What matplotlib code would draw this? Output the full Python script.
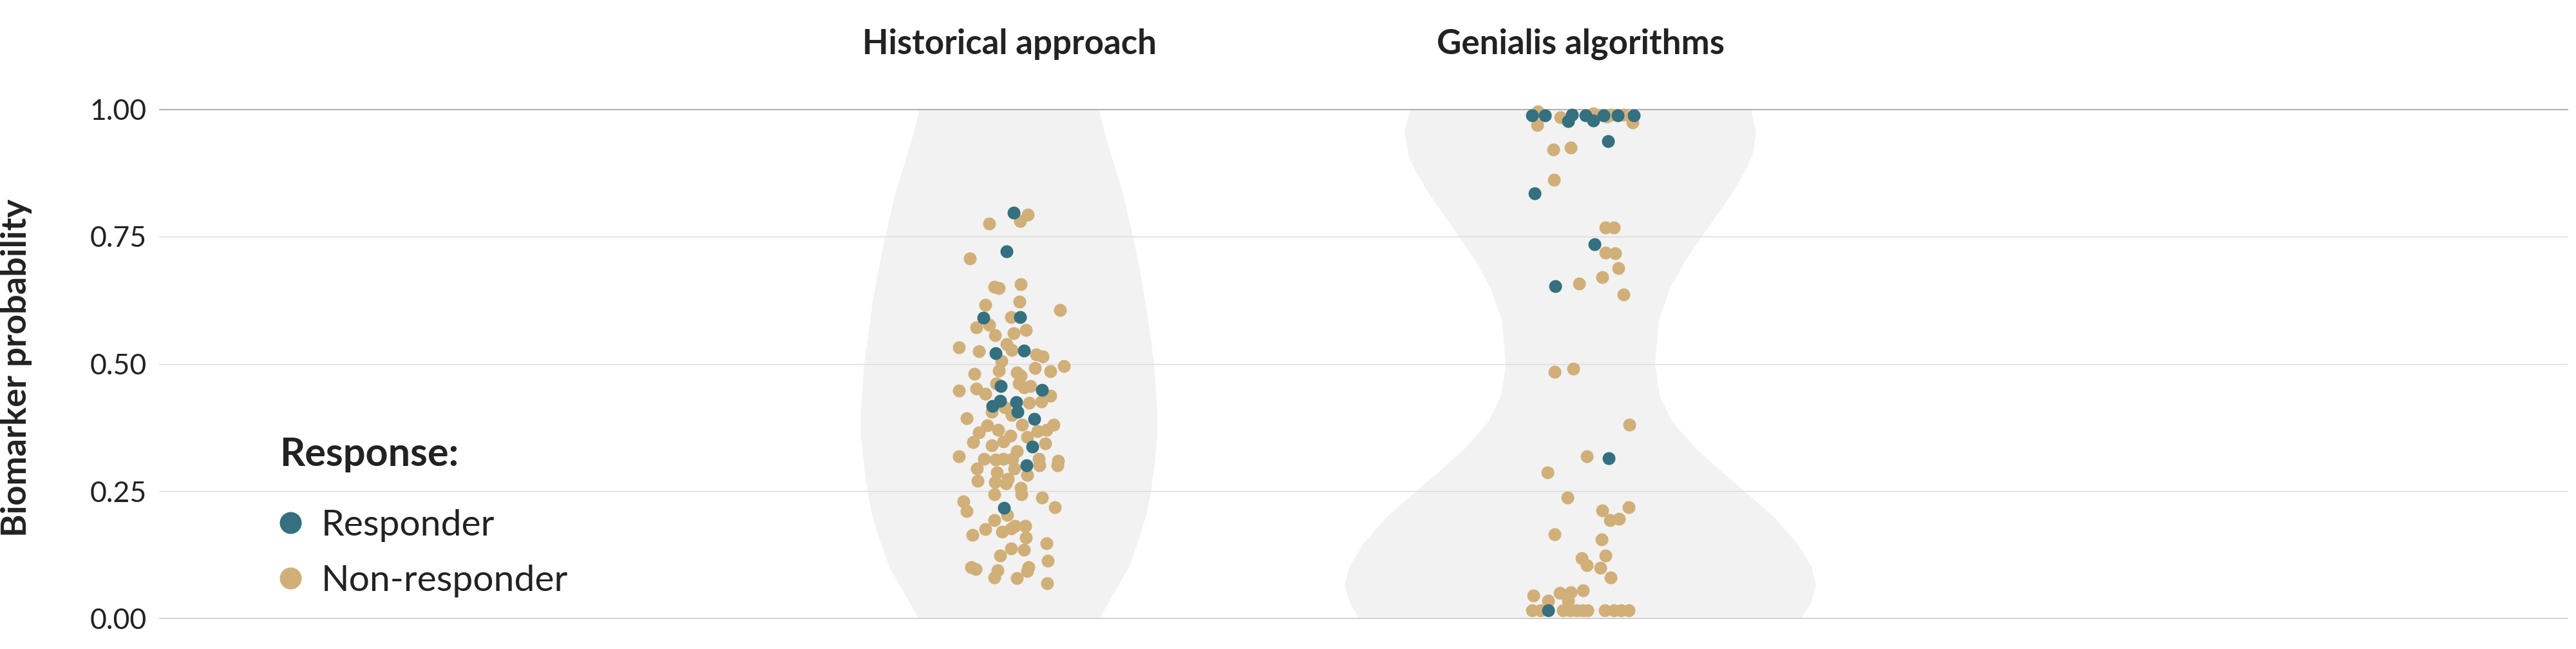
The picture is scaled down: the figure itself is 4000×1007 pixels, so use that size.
import matplotlib
matplotlib.use('Agg')
import matplotlib.pyplot as plt
from matplotlib.lines import Line2D
import numpy as np

plt.rcParams['font.family'] = ['Lato', 'DejaVu Sans']

# ----- data ----------------------------------------------------------------------
groups = ['Historical approach', 'Genialis algorithms']
ytick_values = [0.0, 0.25, 0.50, 0.75, 1.0]
ytick_labels = ['0.00', '0.25', '0.50', '0.75', '1.00']
legend_labels = ['Responder', 'Non-responder']

# violin outlines: probability level and relative density (half width)
hist_violin_y = [0.0, 0.018, 0.057, 0.102, 0.147, 0.199, 0.25, 0.296, 0.36, 0.399,
                 0.425, 0.5, 0.554, 0.618, 0.683, 0.75, 0.837, 0.94, 1.0]
hist_violin_d = [140, 148, 166, 186, 199, 212, 220, 225, 230, 230,
                 229, 225, 219, 212, 203, 192, 176, 151, 139]
gen_violin_y = [0.0, 0.031, 0.065, 0.102, 0.147, 0.199, 0.25, 0.289, 0.334, 0.386, 0.437,
                0.5, 0.586, 0.65, 0.702, 0.75, 0.792, 0.837, 0.876, 0.908, 0.954, 1.0]
gen_violin_d = [343, 358, 366, 359, 337, 301, 255, 219, 179, 143, 123,
                116, 122, 140, 163, 189, 212, 237, 255, 267, 273, 265]

# points: horizontal jitter (in category widths) and biomarker probability
hist_resp_jitter = [0.008, -0.005, -0.045, 0.019, -0.024, 0.026, -0.015, 0.058,
                    -0.016, -0.029, 0.012, 0.015, 0.044, 0.041, 0.030, -0.009]
hist_resp_prob = [0.796, 0.721, 0.591, 0.592, 0.521, 0.526, 0.456, 0.449,
                  0.427, 0.417, 0.425, 0.406, 0.392, 0.337, 0.301, 0.217]

hist_non_jitter = [0.033, 0.019, -0.035, -0.069, -0.026, -0.018, 0.020, -0.042, 0.018, 0.089,
                   -0.035, 0.003, -0.058, 0.029, -0.025, 0.008, -0.088, -0.053, -0.004, 0.005,
                   0.047, 0.059, -0.013, 0.096, 0.045, 0.072, -0.061, -0.018, 0.013, 0.020,
                   -0.088, -0.058, -0.042, -0.023, 0.017, 0.026, 0.037, 0.072, 0.056, 0.035,
                   -0.008, -0.030, 0.005, -0.075, 0.023, 0.078, -0.038, -0.019, -0.053, 0.002,
                   0.032, 0.050, 0.065, -0.063, -0.010, -0.030, 0.063, 0.013, -0.088, -0.044,
                   -0.024, -0.010, 0.052, 0.086, 0.006, -0.056, 0.084, 0.053, -0.021, 0.009,
                   -0.002, -0.025, -0.055, -0.006, 0.032, 0.020, 0.021, -0.026, 0.058, -0.080,
                   -0.075, 0.080, -0.003, -0.026, -0.042, -0.064, -0.012, 0.003, 0.010, 0.028,
                   0.029, 0.065, 0.003, 0.026, -0.016, 0.068, -0.067, -0.059, -0.020, -0.026,
                   0.014, 0.034, 0.032, 0.067]
hist_non_prob = [0.793, 0.780, 0.775, 0.707, 0.651, 0.648, 0.656, 0.616, 0.622, 0.605,
                 0.577, 0.592, 0.571, 0.566, 0.556, 0.560, 0.532, 0.525, 0.539, 0.527,
                 0.518, 0.515, 0.506, 0.496, 0.492, 0.486, 0.480, 0.487, 0.483, 0.476,
                 0.448, 0.451, 0.441, 0.461, 0.461, 0.454, 0.457, 0.438, 0.426, 0.424,
                 0.415, 0.406, 0.400, 0.393, 0.381, 0.381, 0.379, 0.371, 0.365, 0.359,
                 0.357, 0.368, 0.370, 0.346, 0.348, 0.340, 0.344, 0.329, 0.318, 0.313,
                 0.312, 0.314, 0.313, 0.310, 0.314, 0.295, 0.301, 0.301, 0.287, 0.295,
                 0.274, 0.268, 0.270, 0.266, 0.282, 0.257, 0.244, 0.244, 0.238, 0.230,
                 0.211, 0.219, 0.204, 0.193, 0.176, 0.164, 0.171, 0.177, 0.182, 0.182,
                 0.159, 0.148, 0.138, 0.135, 0.124, 0.114, 0.101, 0.097, 0.095, 0.081,
                 0.080, 0.101, 0.093, 0.070]

gen_resp_jitter = [-0.085, -0.062, -0.015, -0.021, 0.009, 0.023, 0.041, 0.065,
                   0.093, 0.048, -0.080, 0.025, -0.044, 0.050, -0.056]
gen_resp_prob = [0.987, 0.987, 0.988, 0.976, 0.987, 0.977, 0.987, 0.987,
                 0.987, 0.937, 0.834, 0.735, 0.652, 0.315, 0.016]

gen_non_jitter = [-0.076, -0.074, -0.035, 0.022, 0.046, 0.054, 0.076, 0.091, -0.047, -0.017,
                  -0.046, 0.044, 0.059, 0.044, 0.061, 0.066, 0.038, -0.002, 0.075, -0.045,
                  -0.012, 0.086, 0.011, -0.057, -0.023, 0.084, 0.038, 0.052, 0.068, -0.045,
                  0.037, 0.002, 0.044, 0.011, 0.035, 0.053, -0.082, -0.056, -0.036, -0.017,
                  0.004, -0.021, -0.085, -0.070, -0.030, -0.018, -0.007, 0.003, 0.012, 0.043,
                  0.059, 0.071, 0.084]
gen_non_prob = [0.969, 0.995, 0.983, 0.991, 0.985, 0.988, 0.988, 0.973, 0.920, 0.924,
                0.861, 0.768, 0.768, 0.718, 0.717, 0.688, 0.670, 0.658, 0.636, 0.484,
                0.491, 0.381, 0.319, 0.287, 0.238, 0.219, 0.212, 0.193, 0.196, 0.166,
                0.155, 0.119, 0.124, 0.105, 0.100, 0.081, 0.046, 0.035, 0.050, 0.052,
                0.055, 0.036, 0.016, 0.016, 0.016, 0.016, 0.016, 0.016, 0.016, 0.016,
                0.016, 0.016, 0.016]

# ----- style ----------------------------------------------------------------------
responder_color = '#34707f'
non_responder_color = '#d0af78'
violin_color = '#f2f2f2'
text_color = '#222222'
violin_widths = [0.519, 0.825]

fig = plt.figure(figsize=(40, 10.07), dpi=100)
ax = fig.add_axes([247 / 4000, 47 / 1007, 3741 / 4000, 791 / 1007])

positions = np.arange(len(groups))
vpstats = []
for ys, ds in [(hist_violin_y, hist_violin_d), (gen_violin_y, gen_violin_d)]:
    vpstats.append({'coords': np.array(ys), 'vals': np.array(ds, dtype=float),
                    'mean': np.nan, 'median': np.nan, 'min': 0.0, 'max': 1.0})
parts = ax.violin(vpstats, positions=positions, widths=violin_widths,
                  showmeans=False, showextrema=False, showmedians=False)
for body in parts['bodies']:
    body.set_facecolor(violin_color)
    body.set_edgecolor('none')
    body.set_alpha(1)
    body.set_zorder(1)

for v in ytick_values:
    if v in (0.0, 1.0):
        ax.axhline(v, color='#b0b0b0', lw=2.2, zorder=1.5)
    else:
        ax.axhline(v, color='#d9d9d9', lw=1.0, zorder=1.5)

point_sets = [
    (0, hist_non_jitter, hist_non_prob, non_responder_color),
    (0, hist_resp_jitter, hist_resp_prob, responder_color),
    (1, gen_non_jitter, gen_non_prob, non_responder_color),
    (1, gen_resp_jitter, gen_resp_prob, responder_color),
]
for pos, jitter, prob, color in point_sets:
    ax.scatter(pos + np.array(jitter), prob, s=207, color=color, linewidths=0,
               zorder=3, clip_on=False)

for pos, name in zip(positions, groups):
    ax.text(pos, 1.108, name, ha='center', va='baseline', fontsize=38,
            fontweight='bold', color=text_color)

ax.set_xlim(-1.4882, 2.7294)
ax.set_ylim(0, 1)
ax.set_xticks([])
ax.set_yticks(ytick_values)
ax.set_yticklabels(ytick_labels)
ax.tick_params(axis='y', length=0, pad=13.7, labelsize=32, labelcolor=text_color)
for spine in ax.spines.values():
    spine.set_visible(False)

fig.text(0.0103, 0.433, 'Biomarker probability', rotation=90, rotation_mode='anchor',
         ha='center', va='baseline', fontsize=39, fontweight='bold', color=text_color)

fig.text(434 / 4000, 0.2825, 'Response:', ha='left', va='baseline', fontsize=44,
         fontweight='bold', color=text_color)
handles = [Line2D([], [], marker='o', ls='', markersize=24.5, markeredgewidth=0,
                  color=c) for c in [responder_color, non_responder_color]]
ax.legend(handles, legend_labels, loc='center left', bbox_to_anchor=(434 / 4000, 0.1475),
          bbox_transform=fig.transFigure, frameon=False, fontsize=41, borderpad=0,
          borderaxespad=0, handlelength=0.6, handletextpad=0.54, labelspacing=0.6,
          labelcolor=text_color)

fig.savefig('out.png', dpi=100)
